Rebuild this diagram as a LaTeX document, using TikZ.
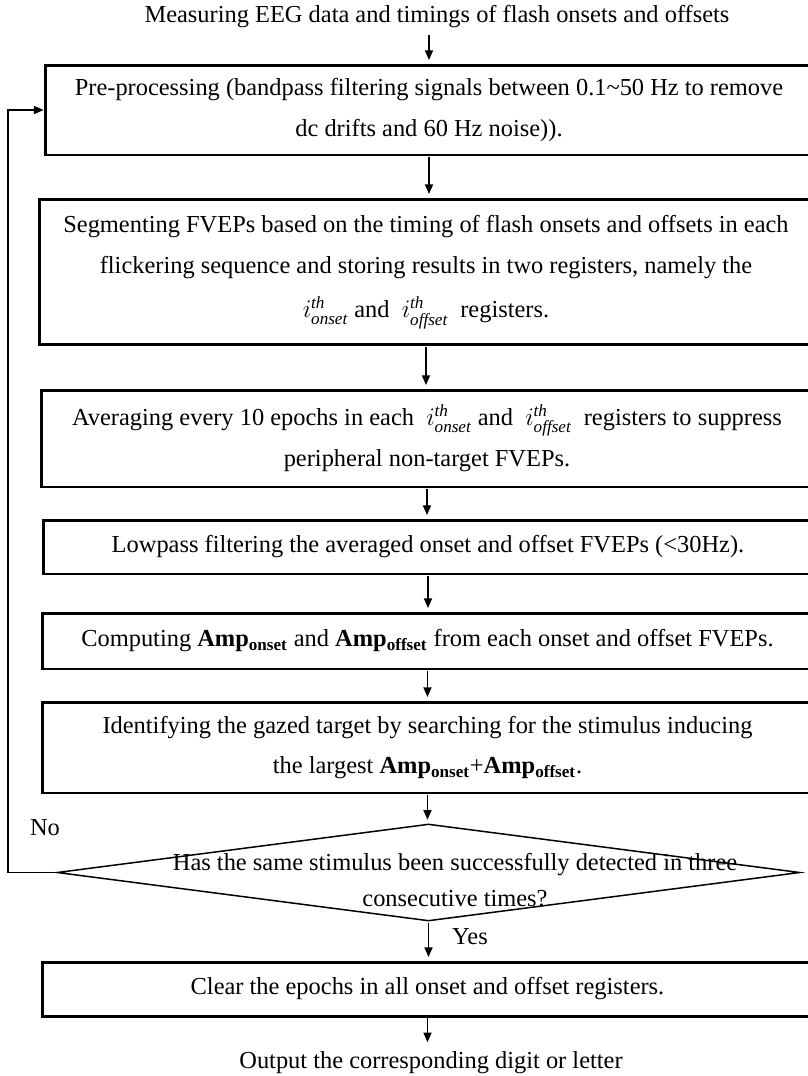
\documentclass[tikz,border=0pt]{standalone}
\usepackage{amsmath}
\usepackage{fontspec}
\setmainfont{Liberation Serif}
\usepackage{tikz}
\usetikzlibrary{shapes.geometric, arrows.meta, positioning, calc}

\tikzset{
    stepbox/.style={draw, line width=1.7pt, inner sep=0pt, align=center},
    flow/.style={-{Triangle[length=5.5pt, width=4.6pt]}, line width=0.85pt, shorten <=0.5pt, shorten >=2pt},
    txt/.style={font=\fontsize{13.9}{23.3}\selectfont},
}

\begin{document}
\begin{tikzpicture}[x=0.02cm, y=-0.02cm, txt]
    \useasboundingbox (0,0) rectangle (808,1076);
    \clip (0,0) rectangle (808,1076);

    % Input
    \node (meas) at (437,17) {Measuring EEG data and timings of flash onsets and offsets};

    % Processing steps
    \node[stepbox, minimum width=15.36cm, minimum height=1.8cm] (pre) at (429,110)
        {Pre-processing (bandpass filtering signals between 0.1\textasciitilde 50 Hz to remove\\ dc drifts and 60 Hz noise)).};
    \node[stepbox, minimum width=15.48cm, minimum height=2.92cm] (seg) at (426,272)
        {Segmenting FVEPs based on the timing of flash onsets and offsets in each\\
         flickering sequence and storing results in two registers, namely the\\[2pt]
         $i^{\mathit{th}}_{\mathit{onset}}$ and \ $i^{\mathit{th}}_{\mathit{offset}}$ \ registers.};
    \node[stepbox, minimum width=15.44cm, minimum height=1.94cm] (avg) at (427,438.5)
        {Averaging every 10 epochs in each \ $i^{\mathit{th}}_{\mathit{onset}}$ and \ $i^{\mathit{th}}_{\mathit{offset}}$ \ registers to suppress\\
         peripheral non-target FVEPs.};
    \node[stepbox, minimum width=15.4cm, minimum height=1.08cm] (low) at (428,547)
        {Lowpass filtering the averaged onset and offset FVEPs (<30Hz).};
    \node[stepbox, minimum width=15.42cm, minimum height=1.12cm] (amp) at (427.5,641)
        {Computing \textbf{Amp}\textsubscript{\textbf{onset}} and \textbf{Amp}\textsubscript{\textbf{offset}} from each onset and offset FVEPs.};
    \node[stepbox, minimum width=15.42cm, minimum height=1.82cm] (ident) at (427.5,747.5)
        {Identifying the gazed target by searching for the stimulus inducing\\
         the largest \textbf{Amp}\textsubscript{\textbf{onset}}+\textbf{Amp}\textsubscript{\textbf{offset}}.};

    % Decision
    \node[diamond, draw, line width=0.85pt, inner sep=0pt, minimum width=14.86cm, minimum height=1.94cm] (dia) at (428.5,872.5) {};
    \node[align=center, font=\fontsize{13.9}{20.5}\selectfont] (ask) at (455,880)
        {Has the same stimulus been successfully detected in three\\ consecutive times?};
    \node (no) at (45,828) {No};
    \node (yes) at (470,937) {Yes};

    % Output
    \node[stepbox, minimum width=15.42cm, minimum height=1.08cm] (clear) at (427.5,989)
        {Clear the epochs in all onset and offset registers.};
    \node (out) at (431,1063) {Output the corresponding digit or letter};

    % Arrows
    \draw[flow] (meas.south -| pre.north) -- (pre.north);
    \draw[flow] (pre.south) -- (pre.south |- seg.north);
    \draw[flow] (seg.south) -- (seg.south |- avg.north);
    \draw[flow] (avg.south) -- (avg.south |- low.north);
    \draw[flow] (low.south) -- (low.south |- amp.north);
    \draw[flow] (amp.south) -- (amp.south |- ident.north);
    \draw[flow] (ident.south) -- (ident.south |- dia.north);
    \draw[flow] (dia.south) -- (dia.south |- clear.north);
    \draw[flow] (clear.south) -- (clear.south |- out.north);

    % Loop back
    \coordinate (back) at (8,872.5);
    \draw[-{Triangle[length=5.5pt, width=4.6pt]}, line width=0.6pt] (dia.west) -- (back) |- (pre.west);
\end{tikzpicture}
\end{document}
